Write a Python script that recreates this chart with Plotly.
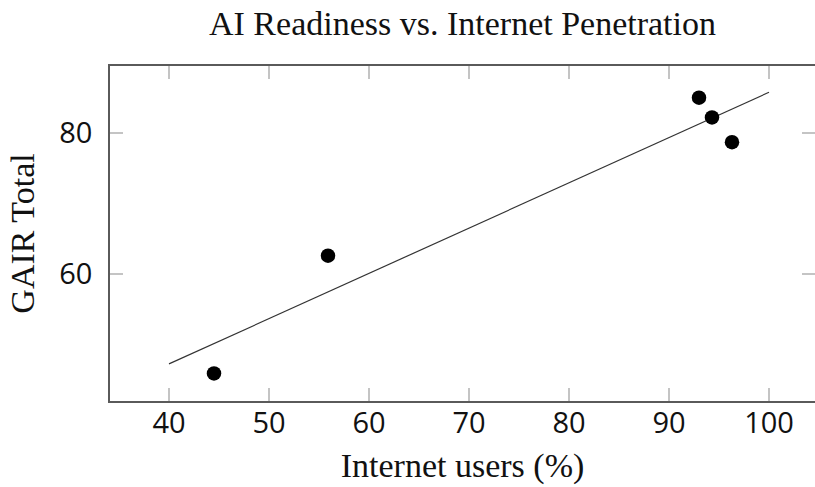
import numpy as np
import plotly.graph_objects as go

# Internet penetration (% of population) and GAIR total score
internet_users = [44.5, 55.9, 93.0, 94.3, 96.3]
gair_total = [45.9, 62.6, 85.0, 82.2, 78.7]

x_ticks = [40, 50, 60, 70, 80, 90, 100]
y_ticks = [60, 80]
fit_span = [40, 100]

# Least-squares trend line
slope, intercept = np.polyfit(internet_users, gair_total, 1)
fit_x = np.array(fit_span, dtype=float)
fit_y = slope * fit_x + intercept

serif = "Liberation Serif, Times New Roman, serif"
sans = "Open Sans, DejaVu Sans, sans-serif"
axis_line = "#5a5a5a"
tick_col = "#c4c4c4"
x_range = [34.1, 104.6]
y_range = [42, 89.5]

fig = go.Figure()
fig.add_trace(go.Scatter(
    x=fit_x, y=fit_y, mode="lines",
    line=dict(color="#333333", width=1.2),
    showlegend=False, hoverinfo="skip",
))
fig.add_trace(go.Scatter(
    x=internet_users, y=gair_total, mode="markers",
    marker=dict(color="black", size=14.5, line=dict(width=0)),
    showlegend=False,
))
# invisible trace on secondary axes: right-hand ticks and x tick labels
fig.add_trace(go.Scatter(
    x=internet_users, y=gair_total, mode="markers", xaxis="x2", yaxis="y2",
    marker=dict(opacity=0), showlegend=False, hoverinfo="skip",
))

fig.update_layout(
    width=815, height=487,
    margin=dict(l=110, r=0, t=66, b=86),
    paper_bgcolor="white", plot_bgcolor="white",
    title=dict(
        text="AI Readiness vs. Internet Penetration",
        x=0.5, xref="paper", xanchor="center",
        y=0.952, yref="container", yanchor="middle",
        font=dict(family=serif, size=34, color="#111111"),
    ),
    xaxis=dict(
        range=x_range,
        tickmode="array", tickvals=x_ticks,
        ticks="inside", ticklen=13, tickwidth=1.5, tickcolor=tick_col,
        showline=True, linecolor=axis_line, linewidth=1.6, mirror="ticks",
        showgrid=False, zeroline=False, showticklabels=False,
    ),
    xaxis2=dict(
        range=x_range, overlaying="x", anchor="free", position=0,
        side="bottom",
        tickmode="array", tickvals=x_ticks, ticks="",
        showline=False, showgrid=False, zeroline=False,
        tickfont=dict(family=sans, size=29, color="#111111"),
        ticklabelstandoff=2,
        title=dict(text="Internet users (%)",
                   font=dict(family=serif, size=34, color="#111111"),
                   standoff=13),
    ),
    yaxis=dict(
        range=y_range,
        tickmode="array", tickvals=y_ticks,
        ticks="inside", ticklen=13, tickwidth=1.5, tickcolor=tick_col,
        showline=True, linecolor=axis_line, linewidth=1.6,
        showgrid=False, zeroline=False,
        tickfont=dict(family=sans, size=29, color="#111111"),
        ticklabelstandoff=10,
        title=dict(text="GAIR Total",
                   font=dict(family=serif, size=34, color="#111111"),
                   standoff=14),
    ),
    yaxis2=dict(
        range=y_range, overlaying="y", side="right", anchor="x2",
        tickmode="array", tickvals=y_ticks,
        ticks="inside", ticklen=13, tickwidth=1.5, tickcolor=tick_col,
        showticklabels=False, showline=False, showgrid=False, zeroline=False,
    ),
)

fig.write_html("out.html")
